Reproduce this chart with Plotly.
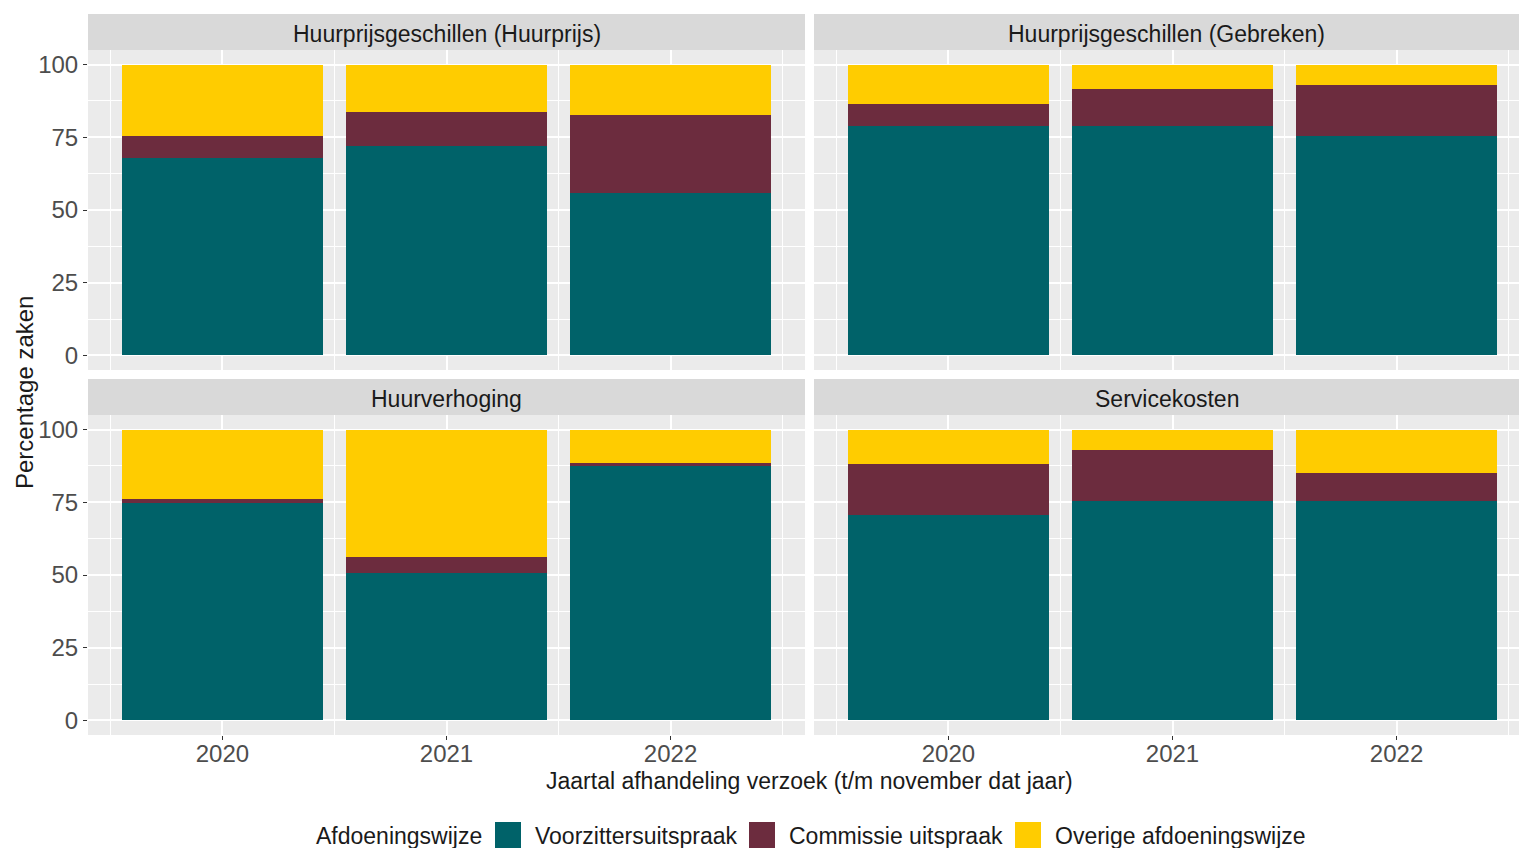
import plotly.graph_objects as go

# data (percentages per panel / year)
jaren = [2020, 2021, 2022]
panelen = ["Huurprijsgeschillen (Huurprijs)", "Huurprijsgeschillen (Gebreken)",
           "Huurverhoging", "Servicekosten"]
categorieen = ["Voorzittersuitspraak", "Commissie uitspraak", "Overige afdoeningswijze"]
kleuren = ["#006269", "#6C2C3E", "#FFCC00"]

voorzitter = [
    [67.9, 72.0, 55.8],
    [78.8, 79.0, 75.4],
    [74.8, 50.6, 87.4],
    [70.7, 75.4, 75.4],
]
commissie = [
    [7.5, 11.7, 26.7],
    [7.5, 12.6, 17.5],
    [1.4, 5.5, 1.0],
    [17.6, 17.6, 9.6],
]
overige = [
    [24.6, 16.3, 17.5],
    [13.7, 8.4, 7.1],
    [23.8, 43.9, 11.6],
    [11.7, 7.0, 15.0],
]
y_ticks = [0, 25, 50, 75, 100]

W, H = 1519, 848
FONT = "Liberation Sans, Arial, sans-serif"

def px(x):
    return x / W

def py(y):
    return (H - y) / H

# panel geometry (pixels); the right column is clipped by the picture edge
x_doms = [(88, 805), (814, 1519), (88, 805), (814, 1519)]
unit = (805 - 88) / 3.2
x_ranges = [
    [2019.4, 2022.6],
    [2019.4, 2019.4 + (1519 - 814) / unit],
    [2019.4, 2022.6],
    [2019.4, 2019.4 + (1519 - 814) / unit],
]
y_doms = [(50, 370), (50, 370), (415, 735), (415, 735)]
strip_y = [(14, 50), (14, 50), (379, 415), (379, 415)]

fig = go.Figure()
series = [voorzitter, commissie, overige]
for p in range(4):
    sfx = "" if p == 0 else str(p + 1)
    for k in range(3):
        fig.add_trace(go.Bar(
            x=jaren, y=series[k][p], name=categorieen[k],
            marker=dict(color=kleuren[k], line=dict(width=0)),
            width=0.9, showlegend=False,
            xaxis="x" + sfx, yaxis="y" + sfx,
        ))

layout = dict(
    width=W, height=H, barmode="stack",
    margin=dict(l=0, r=0, t=0, b=0),
    paper_bgcolor="white", plot_bgcolor="#EBEBEB",
    font=dict(family=FONT, size=23, color="#1A1A1A"),
    shapes=[], annotations=[],
)

for p in range(4):
    sfx = "" if p == 0 else str(p + 1)
    bottom = p >= 2
    left = p % 2 == 0
    (x0, x1), (y0, y1) = x_doms[p], y_doms[p]
    layout["xaxis" + sfx] = dict(
        domain=[px(x0), px(x1)], range=x_ranges[p],
        anchor="y" + sfx, tickvals=jaren,
        showticklabels=bottom, ticks="outside" if bottom else "",
        ticklen=4, tickcolor="#333333", tickwidth=1,
        tickfont=dict(size=24, color="#4D4D4D"), ticklabelstandoff=-7,
        showgrid=True, gridcolor="white", gridwidth=1.6, zeroline=False,
        minor=dict(tick0=2019.5, dtick=1, showgrid=True, gridcolor="white", gridwidth=0.8),
        fixedrange=True,
    )
    layout["yaxis" + sfx] = dict(
        domain=[py(y1), py(y0)], range=[-5, 105],
        anchor="x" + sfx, tickvals=y_ticks,
        showticklabels=left, ticks="outside" if left else "",
        ticklen=4, tickcolor="#333333", tickwidth=1,
        tickfont=dict(size=24, color="#4D4D4D"),
        showgrid=True, gridcolor="white", gridwidth=1.6, zeroline=False,
        minor=dict(tick0=12.5, dtick=25, showgrid=True, gridcolor="white", gridwidth=0.8),
        fixedrange=True,
    )
    s0, s1 = strip_y[p]
    layout["shapes"].append(dict(
        type="rect", xref="paper", yref="paper",
        x0=px(x0), x1=px(x1), y0=py(s1), y1=py(s0),
        fillcolor="#D9D9D9", line=dict(width=0), layer="below",
    ))
    layout["annotations"].append(dict(
        text=panelen[p], xref="paper", yref="paper",
        x=px((x0 + x1) / 2), y=py((s0 + s1) / 2 + 2),
        showarrow=False, xanchor="center", yanchor="middle",
        font=dict(size=23, color="#1A1A1A"),
    ))

# axis titles
layout["annotations"].append(dict(
    text="Jaartal afhandeling verzoek (t/m november dat jaar)",
    xref="paper", yref="paper", x=px(809), y=py(781),
    showarrow=False, xanchor="center", yanchor="middle",
    font=dict(size=23, color="#1A1A1A"),
))
layout["annotations"].append(dict(
    text="Percentage zaken", textangle=-90,
    xref="paper", yref="paper", x=px(24), y=py(393),
    showarrow=False, xanchor="center", yanchor="middle",
    font=dict(size=24, color="#1A1A1A"),
))

# legend (drawn by hand to get ggplot-sized keys)
legend_title_x = 314
key_x = [495, 749, 1015]
ly = 836
layout["annotations"].append(dict(
    text="Afdoeningswijze", xref="paper", yref="paper",
    x=px(legend_title_x), y=py(ly), showarrow=False,
    xanchor="left", yanchor="middle", font=dict(size=23, color="#1A1A1A"),
))
for k in range(3):
    layout["shapes"].append(dict(
        type="rect", xref="paper", yref="paper",
        x0=px(key_x[k]), x1=px(key_x[k] + 26), y0=py(848), y1=py(822),
        fillcolor=kleuren[k], line=dict(width=0),
    ))
    layout["annotations"].append(dict(
        text=categorieen[k], xref="paper", yref="paper",
        x=px(key_x[k] + 38), y=py(ly), showarrow=False,
        xanchor="left", yanchor="middle", font=dict(size=23, color="#1A1A1A"),
    ))

fig.update_layout(**layout)
fig.write_html("out.html", config={"displayModeBar": False},
               post_script="document.body.style.margin='0';")
